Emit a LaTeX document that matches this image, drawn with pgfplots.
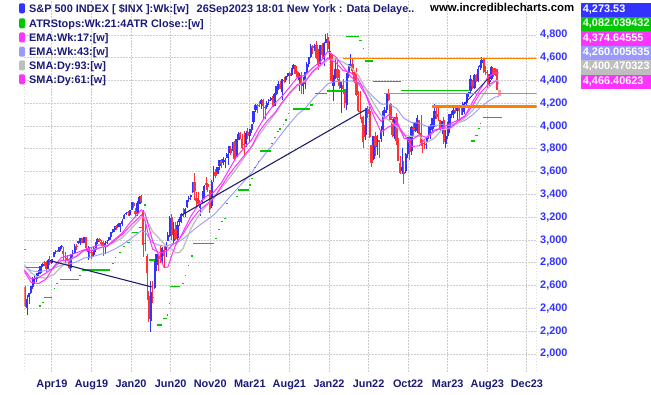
\documentclass[border=0pt]{standalone}
\usepackage{fontspec}
\setmainfont{Liberation Sans}
\usepackage{pgfplots}
\usepackage{pgfplotstable}
\pgfplotsset{compat=1.18}
\definecolor{cblue}{RGB}{51,51,255}
\definecolor{cred}{RGB}{255,51,51}
\definecolor{cgreen}{RGB}{0,200,0}
\definecolor{cmag}{RGB}{255,51,255}
\definecolor{clav}{RGB}{153,153,255}
\definecolor{cgray}{RGB}{190,190,190}
\definecolor{corange}{RGB}{255,128,0}
\definecolor{cnavy}{RGB}{30,30,110}
\definecolor{ctext}{RGB}{26,26,120}
\definecolor{ctick}{RGB}{51,51,255}
\definecolor{cgrid}{RGB}{205,205,205}
\definecolor{cpink}{RGB}{255,160,160}

\pgfplotstableread{
i o h l c
0 2590 2601 2409 2417
1 2400 2520 2346 2486
2 2498 2538 2443 2532
3 2531 2598 2525 2596
4 2585 2675 2570 2671
5 2663 2681 2612 2665
6 2657 2708 2631 2707
7 2703 2733 2681 2708
8 2712 2776 2705 2776
9 2769 2795 2764 2793
10 2805 2817 2775 2804
11 2805 2812 2722 2743
12 2747 2830 2746 2822
13 2823 2860 2785 2801
14 2797 2838 2786 2834
15 2848 2893 2848 2893
16 2893 2910 2877 2907
17 2908 2917 2898 2905
18 2906 2940 2897 2940
19 2941 2954 2919 2946
20 2908 2939 2825 2881
21 2863 2892 2801 2860
22 2841 2865 2806 2826
23 2832 2841 2750 2752
24 2751 2876 2729 2873
25 2886 2911 2855 2887
26 2887 2964 2885 2950
27 2952 2969 2912 2942
28 2971 2996 2963 2990
29 2979 3018 2953 3014
30 3013 3018 2970 2977
31 2978 3028 2972 3026
32 3025 3028 2914 2932
33 2898 2945 2822 2919
34 2896 2943 2840 2889
35 2898 2939 2835 2847
36 2867 2940 2854 2926
37 2910 2985 2892 2979
38 2981 3021 2964 3007
39 3007 3022 2980 2992
40 2984 3002 2946 2962
41 2967 2993 2856 2952
42 2944 2993 2874 2970
43 2973 3004 2969 2986
44 2997 3028 2991 3023
45 3029 3067 3000 3067
46 3067 3097 3058 3093
47 3087 3121 3070 3120
48 3117 3128 3091 3110
49 3118 3154 3116 3141
50 3144 3150 3070 3146
51 3141 3183 3125 3169
52 3183 3226 3183 3221
53 3225 3248 3224 3240
54 3247 3258 3214 3235
55 3218 3268 3213 3265
56 3265 3330 3262 3330
57 3324 3338 3281 3296
58 3255 3285 3214 3226
59 3235 3342 3214 3328
60 3318 3386 3318 3380
61 3389 3393 3328 3338
62 3257 3260 2855 2954
63 2974 3137 2901 2972
64 2864 2882 2478 2711
65 2509 2553 2280 2305
66 2290 2637 2192 2541
67 2498 2641 2447 2489
68 2578 2818 2572 2790
69 2782 2880 2727 2875
70 2845 2871 2728 2837
71 2854 2955 2798 2831
72 2815 2935 2797 2930
73 2915 2945 2767 2864
74 2914 2981 2853 2955
75 2993 3068 2988 3044
76 3038 3211 3026 3194
77 3199 3233 2999 3041
78 2994 3155 2965 3098
79 3094 3155 3004 3009
80 3018 3166 3001 3130
81 3155 3200 3127 3185
82 3185 3238 3153 3225
83 3224 3280 3199 3216
84 3229 3279 3200 3271
85 3288 3353 3284 3351
86 3357 3388 3332 3373
87 3381 3399 3354 3397
88 3419 3509 3415 3508
89 3508 3588 3350 3427
90 3369 3425 3294 3341
91 3349 3420 3314 3320
92 3285 3313 3209 3298
93 3337 3432 3324 3348
94 3368 3482 3356 3477
95 3500 3550 3441 3484
96 3493 3502 3419 3465
97 3441 3441 3234 3270
98 3296 3529 3280 3509
99 3584 3646 3511 3585
100 3600 3628 3545 3558
101 3579 3645 3578 3638
102 3653 3706 3611 3699
103 3692 3712 3634 3664
104 3675 3727 3662 3709
105 3684 3723 3636 3703
106 3723 3760 3723 3756
107 3764 3827 3662 3825
108 3803 3823 3750 3768
109 3781 3859 3780 3842
110 3857 3870 3694 3714
111 3732 3887 3725 3887
112 3878 3950 3874 3935
113 3939 3951 3885 3907
114 3886 3929 3789 3811
115 3843 3960 3723 3842
116 3844 3960 3815 3943
117 3949 3983 3885 3913
118 3917 3978 3853 3975
119 3969 4020 3943 4020
120 4034 4129 4021 4129
121 4142 4191 4124 4185
122 4183 4195 4118 4180
123 4185 4219 4167 4181
124 4192 4238 4150 4233
125 4228 4237 4057 4174
126 4169 4187 4061 4156
127 4168 4219 4152 4204
128 4217 4235 4184 4230
129 4229 4256 4217 4247
130 4248 4262 4164 4167
131 4173 4287 4173 4281
132 4285 4356 4271 4352
133 4344 4393 4321 4370
134 4372 4394 4322 4327
135 4297 4415 4233 4412
136 4409 4429 4377 4395
137 4406 4437 4383 4437
138 4439 4469 4431 4468
139 4462 4479 4368 4442
140 4450 4513 4440 4509
141 4513 4545 4505 4535
142 4532 4536 4457 4459
143 4474 4486 4429 4433
144 4402 4465 4306 4456
145 4449 4477 4279 4357
146 4349 4430 4278 4391
147 4366 4475 4330 4471
148 4472 4560 4470 4545
149 4547 4608 4522 4605
150 4610 4718 4595 4698
151 4701 4714 4630 4683
152 4689 4718 4663 4698
153 4712 4744 4585 4595
154 4628 4673 4495 4538
155 4548 4713 4532 4712
156 4710 4731 4600 4621
157 4587 4740 4531 4726
158 4733 4808 4733 4766
159 4779 4818 4662 4677
160 4656 4749 4582 4663
161 4632 4632 4395 4398
162 4356 4453 4222 4432
163 4432 4595 4414 4500
164 4505 4590 4401 4419
165 4413 4490 4327 4349
166 4332 4385 4114 4385
167 4364 4416 4279 4329
168 4322 4328 4157 4204
169 4188 4465 4138 4463
170 4462 4546 4424 4543
171 4541 4637 4507 4546
172 4547 4594 4450 4488
173 4474 4475 4381 4393
174 4385 4513 4263 4272
175 4262 4308 4128 4132
176 4131 4308 4063 4123
177 4082 4082 3859 4024
178 4013 4091 3810 3901
179 3920 4158 3875 4158
180 4151 4177 4074 4108
181 4134 4169 3900 3901
182 3838 3838 3637 3675
183 3715 3914 3705 3912
184 3913 3950 3739 3825
185 3815 3919 3743 3899
186 3880 3882 3722 3863
187 3883 3999 3864 3962
188 3966 4140 3911 4130
189 4113 4167 4080 4145
190 4140 4281 4112 4280
191 4280 4326 4218 4228
192 4195 4204 4057 4058
193 4034 4062 3906 3924
194 3909 4076 3887 4067
195 4083 4119 3838 3873
196 3875 3900 3693 3693
197 3675 3741 3584 3586
198 3610 3806 3584 3640
199 3593 3695 3491 3583
200 3609 3762 3591 3753
201 3753 3905 3718 3901
202 3881 3911 3699 3771
203 3780 4001 3749 3993
204 3982 4028 3907 3965
205 3956 4034 3945 4026
206 4005 4101 3938 4072
207 4053 4053 3918 3934
208 3939 4101 3828 3852
209 3854 3875 3765 3845
210 3843 3876 3797 3840
211 3853 3906 3795 3895
212 3910 4003 3883 3999
213 3963 4016 3885 3973
214 3979 4073 3949 4071
215 4059 4195 3990 4137
216 4117 4176 4061 4091
217 4104 4161 4047 4079
218 4051 4052 3944 3970
219 3992 4048 3928 4046
220 4055 4079 3847 3862
221 3844 3965 3809 3917
222 3917 4039 3888 3971
223 3982 4110 3939 4109
224 4102 4133 4069 4105
225 4110 4164 4072 4138
226 4139 4170 4114 4134
227 4132 4170 4050 4170
228 4166 4187 4048 4136
229 4124 4155 4099 4124
230 4126 4213 4099 4192
231 4190 4213 4103 4206
232 4200 4291 4166 4282
233 4283 4300 4259 4299
234 4304 4449 4294 4410
235 4396 4401 4328 4348
236 4337 4458 4328 4450
237 4450 4456 4385 4399
238 4398 4528 4386 4505
239 4515 4578 4496 4536
240 4555 4607 4506 4582
241 4588 4595 4464 4478
242 4479 4527 4449 4464
243 4459 4490 4335 4370
244 4390 4459 4350 4406
245 4415 4532 4408 4516
246 4510 4514 4430 4458
247 4464 4511 4437 4450
248 4497 4497 4314 4320
249 4310 4313 4265 4274
}\candles

\pgfplotstableread{
i e17 e43 s93 s61
-1 2752 2775 2791 2739
3 2660 2730 2712 2630
7 2671 2723 2671 2618
11 2712 2733 2667 2658
15 2759 2751 2697 2768
19 2821 2781 2766 2847
23 2824 2789 2821 2864
27 2857 2810 2863 2889
31 2912 2843 2906 2915
35 2906 2852 2913 2937
39 2932 2873 2931 2958
43 2946 2889 2954 2947
47 2995 2921 2982 3007
51 3050 2959 3020 3062
55 3121 3007 3088 3153
59 3186 3056 3157 3226
61 3222 3083 3201 3265
63 3168 3072 3196 3232
65 3027 3022 3136 3112
67 2919 2977 3073 2989
69 2902 2964 3040 2909
71 2888 2952 3002 2835
73 2890 2947 2966 2758
75 2913 2951 2935 2764
77 2955 2966 2920 2866
79 2975 2974 2888 2956
81 3013 2990 2890 3010
83 3055 3011 2929 3074
87 3165 3068 3099 3208
91 3253 3124 3213 3312
95 3309 3171 3300 3383
99 3365 3220 3372 3419
103 3468 3291 3457 3500
107 3573 3369 3539 3615
111 3659 3443 3626 3730
115 3740 3516 3723 3808
119 3824 3592 3818 3880
123 3954 3690 3924 4002
127 4043 3775 4015 4108
131 4114 3852 4102 4197
135 4208 3939 4201 4263
139 4294 4023 4287 4344
143 4365 4101 4353 4428
147 4385 4155 4399 4446
151 4478 4236 4475 4512
155 4537 4304 4528 4563
159 4597 4371 4581 4656
163 4560 4393 4589 4611
167 4489 4389 4562 4522
171 4470 4397 4520 4436
175 4414 4384 4448 4377
179 4278 4328 4324 4271
183 4136 4255 4205 4091
187 4042 4193 4096 3946
191 4100 4194 4052 3994
195 4055 4158 3999 4021
199 3894 4068 3919 3934
203 3879 4032 3911 3821
207 3924 4026 3912 3827
211 3899 3998 3855 3904
215 3954 4006 3895 3967
219 3989 4013 3969 3983
223 3980 4005 3982 4019
227 4039 4027 4022 4050
231 4086 4050 4074 4089
235 4180 4098 4136 4212
239 4290 4162 4234 4324
243 4359 4215 4330 4427
247 4396 4256 4397 4468
249 4375 4260 4400 4466
}\mas

\newcommand{\lfont}{\bfseries\fontsize{10.9}{12}\selectfont}

\begin{document}
\begin{tikzpicture}
\path[use as bounding box] (0,0) rectangle (651pt,395pt);
\begin{axis}[
  at={(24.3pt,23pt)}, anchor=south west,
  scale only axis, width=512.4pt, height=372pt,
  xmin=-0.5, xmax=268.75, ymin=1842, ymax=5107,
  axis line style={draw=none},
  major tick length=0pt,
  xtick={14,34.8,55.6,76.4,97.2,118,138.8,159.6,180.4,201.2,222,242.8,263.6},
  xticklabels={Apr19,Aug19,Jan20,Jun20,Nov20,Mar21,Aug21,Jan22,Jun22,Oct22,Mar23,Aug23,Dec23},
  ytick={2000,2200,2400,2600,2800,3000,3200,3400,3600,3800,4000,4200,4400,4600,4800},
  yticklabels={{2,000},{2,200},{2,400},{2,600},{2,800},{3,000},{3,200},{3,400},{3,600},{3,800},{4,000},{4,200},{4,400},{4,600},{4,800}},
  yticklabel pos=right,
  grid=major,
  grid style={color=cgrid, dash pattern=on 1.5pt off 1.5pt, line width=0.9pt},
  xticklabel style={anchor=base, yshift=-16pt, text=ctext, font=\lfont},
  yticklabel style={text=ctick, font=\lfont},
  unbounded coords=jump,
]
% frame (dotted like the grid)
\draw[color=cgrid, dash pattern=on 1.5pt off 1.5pt, line width=0.9pt]
  (rel axis cs:0,1) -- (rel axis cs:0,0) -- (rel axis cs:1,0) -- (rel axis cs:1,1);

% candles: wicks (low to high)
\addplot[cblue, line width=1.0pt, mark=none, forget plot,
  restrict expr to domain={\thisrow{c}-\thisrow{o}}{0:100000},
  quiver={u={0}, v={\thisrow{h}-\thisrow{l}}}]
  table[x=i, y=l] {\candles};
\addplot[cred, line width=1.0pt, mark=none, forget plot,
  restrict expr to domain={\thisrow{c}-\thisrow{o}}{-100000:0},
  quiver={u={0}, v={\thisrow{h}-\thisrow{l}}}]
  table[x=i, y=l] {\candles};
% candles: bodies (open to close)
\addplot[cblue, line width=2.3pt, mark=none, forget plot,
  restrict expr to domain={\thisrow{c}-\thisrow{o}}{0:100000},
  quiver={u={0}, v={\thisrow{c}-\thisrow{o}}}]
  table[x=i, y=o] {\candles};
\addplot[cred, line width=2.3pt, mark=none, forget plot,
  restrict expr to domain={\thisrow{c}-\thisrow{o}}{-100000:0},
  quiver={u={0}, v={\thisrow{c}-\thisrow{o}}}]
  table[x=i, y=o] {\candles};
% last (current) bar
\addplot[cpink, line width=2.8pt, mark=none, forget plot,
  restrict x to domain=248.5:249.5,
  quiver={u={0}, v={\thisrow{h}-\thisrow{l}}}]
  table[x=i, y=l] {\candles};

% moving averages
\addplot[color=clav, line width=0.9pt, mark=none] table[x=i, y=e43] {\mas};
\addplot[color=cgray, line width=1.3pt, mark=none] table[x=i, y=s93] {\mas};
\addplot[color=cmag, line width=1.0pt, mark=none] table[x=i, y=s61] {\mas};
\addplot[color=cmag, line width=1.0pt, mark=none] table[x=i, y=e17] {\mas};

% ATR stops
\addplot[color=cgreen, line width=1.2pt, mark=none] coordinates {
(-0.6,2919) (0.2,2919) (0.2,nan)
(0.3,2761) (7.0,2761) (7.0,nan)
(7.3,2421) (8.4,2421) (8.4,nan)
(8.7,2450) (9.6,2450) (9.6,nan)
(9.6,2494) (14.0,2494) (14.0,nan)
(14.9,2577) (15.8,2577) (15.8,nan)
(16.2,2620) (17.0,2620) (17.0,nan)
(18.4,2655) (28.0,2655) (28.0,nan)
(28.3,2687) (29.2,2687) (29.2,nan)
(29.6,2737) (44.6,2737) (44.6,nan)
(45.8,2795) (46.6,2795) (46.6,nan)
(47.0,2845) (47.8,2845) (47.8,nan)
(49.5,2889) (50.3,2889) (50.3,nan)
(51.6,2941) (52.4,2941) (52.4,nan)
(53.3,2976) (55.1,2976) (55.1,nan)
(56.0,3067) (59.5,3067) (59.5,nan)
(60.0,3110) (62.3,3110) (62.3,nan)
(62.3,3308) (63.6,3308) (63.6,nan)
(63.9,3168) (64.7,3168) (64.7,nan)
(65.1,2825) (68.3,2825) (68.3,nan)
(69.2,2255) (71.8,2255) (71.8,nan)
(72.3,2313) (74.4,2313) (74.4,nan)
(74.6,2342) (75.2,2342) (75.2,nan)
(75.3,2440) (75.9,2440) (75.9,nan)
(76.2,2590) (81.4,2590) (81.4,nan)
(82.6,2620) (83.4,2620) (83.4,nan)
(83.8,2690) (84.6,2690) (84.6,nan)
(85.4,2780) (86.2,2780) (86.2,nan)
(87.3,2860) (88.0,2860) (88.0,nan)
(88.2,2971) (99.3,2971) (99.3,nan)
(99.8,3015) (100.8,3015) (100.8,nan)
(101.5,3094) (102.3,3094) (102.3,nan)
(102.9,3162) (103.7,3162) (103.7,nan)
(104.6,3190) (105.4,3190) (105.4,nan)
(105.6,3322) (106.4,3322) (106.4,nan)
(110.8,3382) (111.6,3382) (111.6,nan)
(111.9,3440) (117.6,3440) (117.6,nan)
(117.8,3484) (118.6,3484) (118.6,nan)
(118.7,3542) (119.5,3542) (119.5,nan)
(120.4,3635) (121.2,3635) (121.2,nan)
(122.1,3687) (122.9,3687) (122.9,nan)
(123.4,3782) (129.0,3782) (129.0,nan)
(129.2,3849) (130.0,3849) (130.0,nan)
(130.9,3902) (131.7,3902) (131.7,nan)
(132.5,3951) (133.3,3951) (133.3,nan)
(133.5,3975) (134.3,3975) (134.3,nan)
(135.3,4016) (136.1,4016) (136.1,nan)
(136.7,4054) (137.5,4054) (137.5,nan)
(137.9,4112) (138.7,4112) (138.7,nan)
(140.6,4151) (149.7,4151) (149.7,nan)
(149.8,4186) (151.0,4186) (151.0,nan)
(152.3,4289) (158.5,4289) (158.5,nan)
(158.6,4309) (168.1,4309) (168.1,nan)
(168.6,4785) (175.4,4785) (175.4,nan)
(175.6,4748) (176.8,4748) (176.8,nan)
(177.4,4678) (178.2,4678) (178.2,nan)
(178.5,4572) (182.6,4572) (182.6,nan)
(182.6,4395) (197.3,4395) (197.3,nan)
(197.5,4316) (233.7,4316) (233.7,nan)
(234.2,3870) (236.3,3870) (236.3,nan)
(236.3,3915) (237.9,3915) (237.9,nan)
(238.0,3980) (238.8,3980) (238.8,nan)
(238.9,4024) (239.7,4024) (239.7,nan)
(240.5,4077) (250.4,4077)
};

% trend lines
\addplot[color=cnavy, line width=1.1pt, mark=none] coordinates {(13.1,2819) (66.5,2588)};
\addplot[color=cnavy, line width=1.1pt, mark=none] coordinates {(82.3,3220) (178.6,4142)};
\addplot[color=cnavy, line width=0.8pt, mark=none] coordinates {(230.3,4190) (243.2,4414)};

% horizontal orange lines
\addplot[color=corange, line width=1.1pt, mark=none] coordinates {(167.2,4597) (268.75,4597)};
\addplot[color=corange, line width=1.1pt, mark=none] coordinates {(188.6,4288) (268.75,4288)};
\addplot[color=corange, line width=2.6pt, mark=none] coordinates {(213.6,4171) (268.75,4171)};
\end{axis}

% legend
\foreach \yy/\cc in {386.7/cblue, 371.7/cgreen, 357.5/cmag, 343.3/clav, 329.5/cgray, 315.7/cmag}{
  \fill[\cc, rounded corners=1.2pt] (19.2pt,\yy pt-5pt) rectangle (24.8pt,\yy pt+5pt);
}
\node[anchor=base west, inner sep=0, text=ctext, font=\lfont] at (29pt,382.8pt)
  {S\&P 500 INDEX [ \$INX ]:Wk:[w]\hspace{0.7em}26Sep2023 18:01 New York : Data Delaye..};
\node[anchor=base west, inner sep=0, text=ctext, font=\lfont] at (29pt,367.8pt) {ATRStops:Wk:21:4ATR Close::[w]};
\node[anchor=base west, inner sep=0, text=ctext, font=\lfont] at (29pt,353.6pt) {EMA:Wk:17:[w]};
\node[anchor=base west, inner sep=0, text=ctext, font=\lfont] at (29pt,339.4pt) {EMA:Wk:43:[w]};
\node[anchor=base west, inner sep=0, text=ctext, font=\lfont] at (29pt,325.6pt) {SMA:Dy:93:[w]};
\node[anchor=base west, inner sep=0, text=ctext, font=\lfont] at (29pt,311.8pt) {SMA:Dy:61:[w]};

\node[anchor=base west, inner sep=0, text=black, font=\bfseries\fontsize{11.4}{13}\selectfont] at (430pt,383.3pt) {www.incrediblecharts.com};

% value boxes
\foreach \k/\cc/\vv in {0/cblue/{4,273.53}, 1/cgreen/{4,082.039432}, 2/cmag/{4,374.64555}, 3/clav/{4,260.005635}, 4/cgray/{4,400.470323}, 5/cmag/{4,466.40623}}{
  \fill[\cc] (581pt,{395pt-2.7pt-\k*14.4pt}) rectangle (651pt,{395pt-17.1pt-\k*14.4pt});
  \node[anchor=base west, inner sep=0, text=white, font=\lfont] at (582.7pt,{395pt-12.3pt-\k*14.4pt}) {\vv};
}
\end{tikzpicture}
\end{document}
